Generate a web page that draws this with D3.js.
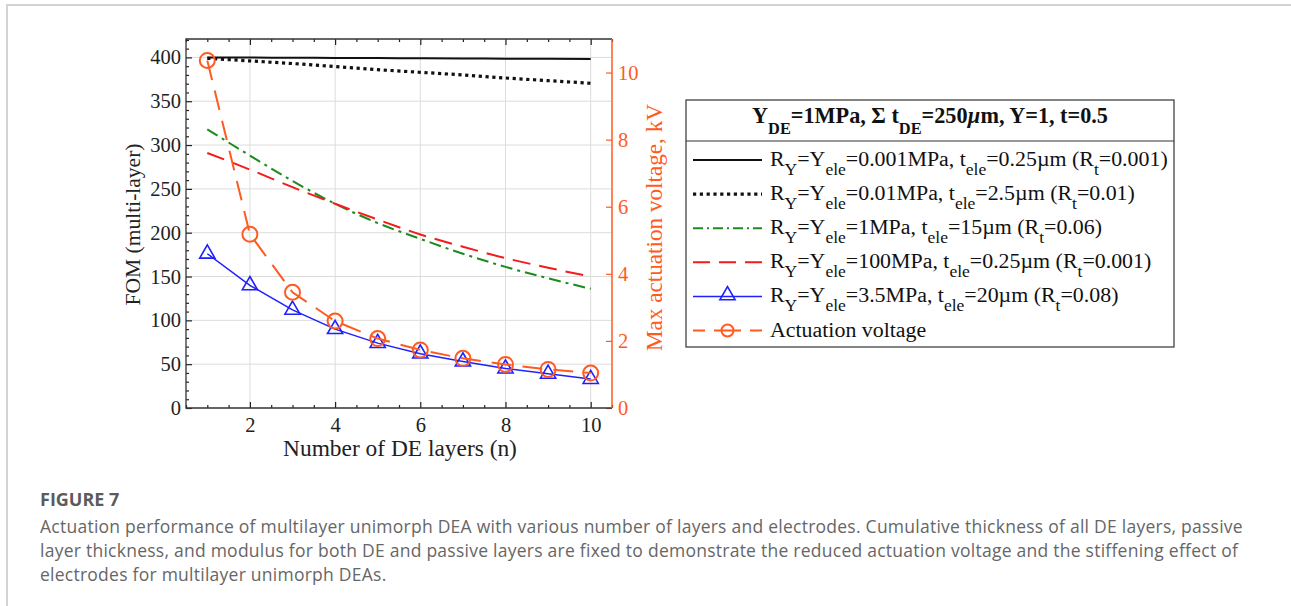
<!DOCTYPE html>
<html>
<head>
<meta charset="utf-8">
<script src="https://cdn.jsdelivr.net/npm/d3@7"></script>
<style>
  body { margin: 0; background: #fff; }
  svg { display: block; }
</style>
</head>
<body>
<div id="chart"></div>
<script>
// number of DE layers
const layers = [1, 2, 3, 4, 5, 6, 7, 8, 9, 10];

// FOM (multi-layer), one array per electrode case
const fomSoftThin   = [400, 399.8, 399.6, 399.4, 399.2, 399, 398.8, 398.6, 398.4, 398.2];
const fomSoftThick  = [399, 396, 393, 389.5, 386, 383, 380, 376.5, 373.5, 370.5];
const fomMedium     = [318, 288, 259, 233, 211, 193, 176, 161, 148, 136];
const fomStiffThin  = [291, 272, 252, 233, 215, 198, 184, 171, 160, 150];
const fomStiffThick = [176, 140, 112, 90, 74, 62, 53, 45, 39, 33];

// max actuation voltage, kV
const voltage = [10.36, 5.18, 3.45, 2.59, 2.07, 1.73, 1.48, 1.3, 1.15, 1.04];

const xTicks = [2, 4, 6, 8, 10];
const xMinorTicks = [0.5, 1, 1.5, 2.5, 3, 3.5, 4.5, 5, 5.5, 6.5, 7, 7.5, 8.5, 9, 9.5, 10.5];
const leftTicks = [0, 50, 100, 150, 200, 250, 300, 350, 400];
const leftMinorTicks = d3.range(0, 421, 10).filter(v => v % 50 !== 0);
const rightTicks = [0, 2, 4, 6, 8, 10];

const legendTitle = 'Y_{DE}=1MPa, Σ t_{DE}=250~{µ}m, Y=1, t=0.5';
const legendLabels = [
  'R_{Y}=Y_{ele}=0.001MPa, t_{ele}=0.25µm (R_{t}=0.001)',
  'R_{Y}=Y_{ele}=0.01MPa, t_{ele}=2.5µm (R_{t}=0.01)',
  'R_{Y}=Y_{ele}=1MPa, t_{ele}=15µm (R_{t}=0.06)',
  'R_{Y}=Y_{ele}=100MPa, t_{ele}=0.25µm (R_{t}=0.001)',
  'R_{Y}=Y_{ele}=3.5MPa, t_{ele}=20µm (R_{t}=0.08)',
  'Actuation voltage'
];

const captionTitle = 'FIGURE 7';
const captionLines = [
  'Actuation performance of multilayer unimorph DEA with various number of layers and electrodes. Cumulative thickness of all DE layers, passive',
  'layer thickness, and modulus for both DE and passive layers are fixed to demonstrate the reduced actuation voltage and the stiffening effect of',
  'electrodes for multilayer unimorph DEAs.'
];

const ORANGE = '#ff5a1f';
const SERIF = '"Liberation Serif", "Times New Roman", serif';

const width = 1291, height = 606;
const plot = { left: 186, right: 612, top: 39, bottom: 408 };

const svg = d3.select('#chart').append('svg')
  .attr('width', width)
  .attr('height', height);

// page frame
svg.append('path')
  .attr('d', `M7,${height} V5 H${width}`)
  .attr('fill', 'none')
  .attr('stroke', '#d3d3d3')
  .attr('stroke-width', 2);

const x = d3.scaleLinear().domain([0.5, 10.5]).range([plot.left, plot.right]);
const yL = d3.scaleLinear().domain([0, 421]).range([plot.bottom, plot.top]);
const yR = d3.scaleLinear().domain([0, 11]).range([plot.bottom, plot.top]);

// the reference font (CM) runs wider than Liberation Serif, so size titles by width
function fitFont(sel, target) {
  const size = +sel.attr('font-size');
  const w = sel.node().getComputedTextLength();
  sel.attr('font-size', size * target / w);
}

// grid
const grid = svg.append('g').attr('stroke', '#dcdcdc').attr('stroke-width', 1);
grid.selectAll('line.gx').data(xTicks).join('line')
  .attr('x1', d => x(d)).attr('x2', d => x(d))
  .attr('y1', plot.top).attr('y2', plot.bottom);
grid.selectAll('line.gy').data(leftTicks.slice(1)).join('line')
  .attr('x1', plot.left).attr('x2', plot.right)
  .attr('y1', d => yL(d)).attr('y2', d => yL(d));

function styleAxis(g, color, size) {
  g.select('.domain').remove();
  g.selectAll('.tick line').attr('stroke', color).attr('stroke-width', 1.2);
  g.selectAll('.tick text')
    .attr('fill', color)
    .attr('font-family', SERIF)
    .attr('font-size', size);
}

// bottom and top axes
svg.append('g').attr('transform', `translate(0,${plot.bottom})`)
  .call(d3.axisBottom(x).tickValues(xTicks).tickSizeInner(-6).tickSizeOuter(0).tickPadding(9))
  .call(g => styleAxis(g, '#222', 20.5));
svg.append('g').attr('transform', `translate(0,${plot.bottom})`)
  .call(d3.axisBottom(x).tickValues(xMinorTicks).tickSizeInner(-3).tickSizeOuter(0).tickFormat(''))
  .call(g => styleAxis(g, '#222', 20));
svg.append('g').attr('transform', `translate(0,${plot.top})`)
  .call(d3.axisTop(x).tickValues(xTicks).tickSizeInner(-6).tickSizeOuter(0).tickFormat(''))
  .call(g => styleAxis(g, '#222', 20));
svg.append('g').attr('transform', `translate(0,${plot.top})`)
  .call(d3.axisTop(x).tickValues(xMinorTicks).tickSizeInner(-3).tickSizeOuter(0).tickFormat(''))
  .call(g => styleAxis(g, '#222', 20));

// left axis
svg.append('g').attr('transform', `translate(${plot.left},0)`)
  .call(d3.axisLeft(yL).tickValues(leftTicks).tickSizeInner(-6).tickSizeOuter(0).tickPadding(5))
  .call(g => styleAxis(g, '#222', 20.5));
svg.append('g').attr('transform', `translate(${plot.left},0)`)
  .call(d3.axisLeft(yL).tickValues(leftMinorTicks).tickSizeInner(-3).tickSizeOuter(0).tickFormat(''))
  .call(g => styleAxis(g, '#222', 20));

// right axis
svg.append('g').attr('transform', `translate(${plot.right},0)`)
  .call(d3.axisRight(yR).tickValues(rightTicks).tickSizeInner(-6).tickSizeOuter(0).tickPadding(6))
  .call(g => styleAxis(g, ORANGE, 20.5));

// frame
svg.append('path')
  .attr('d', `M${plot.right},${plot.top} H${plot.left} V${plot.bottom} H${plot.right}`)
  .attr('fill', 'none').attr('stroke', '#333').attr('stroke-width', 1.3);
svg.append('line')
  .attr('x1', plot.right).attr('x2', plot.right)
  .attr('y1', plot.top).attr('y2', plot.bottom)
  .attr('stroke', ORANGE).attr('stroke-width', 1.5);

// axis titles
svg.append('text')
  .attr('transform', `translate(140,${(plot.top + plot.bottom) / 2 + 1}) rotate(-90)`)
  .attr('text-anchor', 'middle')
  .attr('font-family', SERIF).attr('font-size', 20).attr('fill', '#222')
  .text('FOM (multi-layer)')
  .call(t => fitFont(t, 162));
svg.append('text')
  .attr('transform', `translate(662,${(plot.top + plot.bottom) / 2 + 4}) rotate(-90)`)
  .attr('text-anchor', 'middle')
  .attr('font-family', SERIF).attr('font-size', 20).attr('fill', ORANGE)
  .text('Max actuation voltage, kV')
  .call(t => fitFont(t, 247));
svg.append('text')
  .attr('x', 400).attr('y', 456)
  .attr('text-anchor', 'middle')
  .attr('font-family', SERIF).attr('font-size', 20).attr('fill', '#222')
  .text('Number of DE layers (n)')
  .call(t => fitFont(t, 234));

// series
const series = [
  { values: fomSoftThin, color: '#111', width: 2, dash: null, curve: d3.curveMonotoneX },
  { values: fomSoftThick, color: '#111', width: 3.2, dash: '3.2,3.6', curve: d3.curveMonotoneX },
  { values: fomMedium, color: '#1d8a1d', width: 2, dash: '12,5,3,5', curve: d3.curveMonotoneX },
  { values: fomStiffThin, color: '#f21c1c', width: 2, dash: '18,9', curve: d3.curveMonotoneX },
  { values: fomStiffThick, color: '#1f1fff', width: 1.5, dash: null, curve: d3.curveLinear }
];

series.forEach(s => {
  const line = d3.line().curve(s.curve).x((d, i) => x(layers[i])).y(d => yL(d));
  svg.append('path')
    .datum(s.values)
    .attr('d', line)
    .attr('fill', 'none')
    .attr('stroke', s.color)
    .attr('stroke-width', s.width)
    .attr('stroke-dasharray', s.dash);
});

const triangle = d3.symbol().type(d3.symbolTriangle).size(100);

svg.append('g').selectAll('path')
  .data(fomStiffThick)
  .join('path')
  .attr('transform', (d, i) => `translate(${x(layers[i])},${yL(d)})`)
  .attr('d', triangle)
  .attr('fill', 'none')
  .attr('stroke', '#1f1fff')
  .attr('stroke-width', 1.6);

const vLine = d3.line().x((d, i) => x(layers[i])).y(d => yR(d));
svg.append('path')
  .datum(voltage)
  .attr('d', vLine)
  .attr('fill', 'none')
  .attr('stroke', ORANGE)
  .attr('stroke-width', 2)
  .attr('stroke-dasharray', '20,11');

svg.append('g').selectAll('circle')
  .data(voltage)
  .join('circle')
  .attr('cx', (d, i) => x(layers[i]))
  .attr('cy', d => yR(d))
  .attr('r', 7.5)
  .attr('fill', 'none')
  .attr('stroke', ORANGE)
  .attr('stroke-width', 2);

// rich text with _{sub} and ~{italic}
function richText(sel, str, size, subSize, subShift) {
  sel.selectAll('tspan').remove();
  const parts = str.split(/(_\{[^}]*\}|~\{[^}]*\})/).filter(p => p.length);
  let shift = 0;
  parts.forEach(p => {
    let txt = p, target = 0, fs = size, italic = null;
    if (p.startsWith('_{')) { txt = p.slice(2, -1); target = subShift; fs = subSize; }
    else if (p.startsWith('~{')) { txt = p.slice(2, -1); italic = 'italic'; }
    sel.append('tspan')
      .attr('dy', target - shift)
      .attr('font-size', fs)
      .attr('font-style', italic)
      .text(txt);
    shift = target;
  });
}

// legend
const legend = { left: 686, right: 1174, top: 100, bottom: 347, sep: 141 };
const lg = svg.append('g');
lg.append('rect')
  .attr('x', legend.left).attr('y', legend.top)
  .attr('width', legend.right - legend.left)
  .attr('height', legend.bottom - legend.top)
  .attr('fill', '#fff').attr('stroke', '#333').attr('stroke-width', 1.2);
lg.append('line')
  .attr('x1', legend.left).attr('x2', legend.right)
  .attr('y1', legend.sep).attr('y2', legend.sep)
  .attr('stroke', '#333').attr('stroke-width', 1.2);

const title = lg.append('text')
  .attr('x', (legend.left + legend.right) / 2).attr('y', 123)
  .attr('text-anchor', 'middle')
  .attr('font-family', SERIF).attr('font-weight', 'bold').attr('fill', '#111');
richText(title, legendTitle, 19, 14, 11);
const tk = 356 / title.node().getComputedTextLength();
richText(title, legendTitle, 19 * tk, 14 * tk, 11);

const legendStyles = [
  { color: '#111', width: 2, dash: null, marker: null },
  { color: '#111', width: 3.2, dash: '3.2,3.6', marker: null },
  { color: '#1d8a1d', width: 2, dash: '10,4,2,4', marker: null },
  { color: '#f21c1c', width: 2, dash: '17,9', marker: null },
  { color: '#1f1fff', width: 1.5, dash: null, marker: 'triangle' },
  { color: ORANGE, width: 2, dash: '12,9,27,9,12', marker: 'circle' }
];

const rowY = i => 166 + i * 34.1;

// measure the first row once, then use one scale for every row
const probe = lg.append('text').attr('font-family', SERIF);
richText(probe, legendLabels[0], 17.5, 14, 9);
const rk = 398 / probe.node().getComputedTextLength();
probe.remove();

legendLabels.forEach((label, i) => {
  const st = legendStyles[i];
  const ly = rowY(i) - 6;
  lg.append('line')
    .attr('x1', 693).attr('x2', 762)
    .attr('y1', ly).attr('y2', ly)
    .attr('stroke', st.color).attr('stroke-width', st.width)
    .attr('stroke-dasharray', st.dash);
  if (st.marker === 'triangle') {
    lg.append('path')
      .attr('transform', `translate(727.5,${ly - 1})`)
      .attr('d', triangle)
      .attr('fill', 'none').attr('stroke', st.color).attr('stroke-width', 1.6);
  } else if (st.marker === 'circle') {
    lg.append('circle')
      .attr('cx', 727.5).attr('cy', ly).attr('r', 6)
      .attr('fill', 'none').attr('stroke', st.color).attr('stroke-width', 2);
  }
  const t = lg.append('text')
    .attr('x', 770).attr('y', rowY(i))
    .attr('font-family', SERIF).attr('fill', '#111');
  richText(t, label, 17.5 * rk, 14 * rk, 9);
});

// caption
svg.append('text')
  .attr('x', 40).attr('y', 506)
  .attr('font-family', '"Open Sans", sans-serif')
  .attr('font-weight', 'bold').attr('font-size', 18)
  .attr('fill', '#5b5b5b')
  .text(captionTitle);

svg.append('g').selectAll('text')
  .data(captionLines)
  .join('text')
  .attr('x', 40)
  .attr('y', (d, i) => 533 + i * 24)
  .attr('font-family', '"Open Sans", sans-serif')
  .attr('font-size', 17.5)
  .attr('letter-spacing', 0.25)
  .attr('fill', '#666')
  .text(d => d);
</script>
</body>
</html>
